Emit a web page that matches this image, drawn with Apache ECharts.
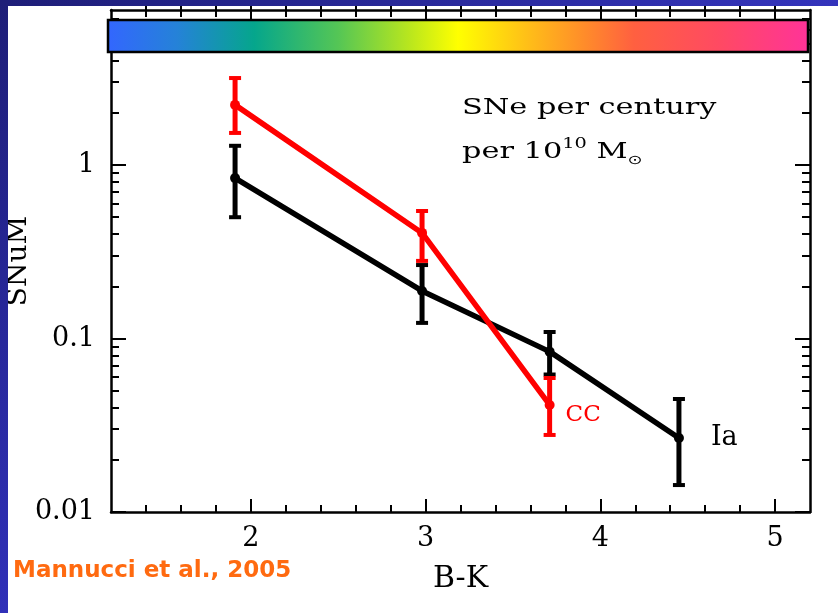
<!DOCTYPE html>
<html>
<head>
<meta charset="utf-8">
<script src="https://cdn.jsdelivr.net/npm/echarts@6/dist/echarts.min.js"></script>
<style>
  html, body { margin: 0; padding: 0; background: #fff; }
  #chart { width: 838px; height: 613px; }
</style>
</head>
<body>
<div id="chart"></div>
<script>
// Supernova rates (SNuM) versus B-K colour of the host galaxies
const bkIa = [1.91, 2.98, 3.71, 4.45];
const rateIa = [0.84, 0.188, 0.084, 0.0267];
const errLowIa = [0.50, 0.123, 0.062, 0.0143];
const errHighIa = [1.29, 0.265, 0.109, 0.0448];

const bkCC = [1.91, 2.98, 3.71];
const rateCC = [2.22, 0.406, 0.0414];
const errLowCC = [1.53, 0.28, 0.0278];
const errHighCC = [3.17, 0.543, 0.0592];

const xRange = [1.2, 5.2];
const xMajorTicks = [2, 3, 4, 5];
const xMinorTicks = [1.4, 1.6, 1.8, 2.2, 2.4, 2.6, 2.8, 3.2, 3.4, 3.6, 3.8,
                     4.2, 4.4, 4.6, 4.8];

const yRange = [0.01, 7.82];
const yDecades = [0.01, 0.1, 1];
const yLabels = ['0.01', '0.1', '1'];
const yMinorTicks = [0.02, 0.03, 0.04, 0.05, 0.06, 0.07, 0.08, 0.09,
                     0.2, 0.3, 0.4, 0.5, 0.6, 0.7, 0.8, 0.9,
                     2, 3, 4, 5, 6, 7];

const colorbarStops = [
  [0.00, '#3366ff'], [0.10, '#2582d8'], [0.21, '#05a68c'], [0.33, '#55c655'],
  [0.43, '#b8e61e'], [0.50, '#ffff00'], [0.60, '#ffbe18'], [0.68, '#ff8c2a'],
  [0.75, '#ff6040'], [0.87, '#ff4a62'], [1.00, '#ff3399']
];

const serif = '"DejaVu Serif", serif';
const log10 = Math.log10;
const yMinLog = log10(yRange[0]);
const yMaxLog = log10(yRange[1]);
const yDecadeLogs = yDecades.map(v => Math.round(log10(v)));
const yMinorLogs = yMinorTicks.map(v => log10(v));

const axisLineStyle = { color: '#000', width: 2.5 };

// x axes: one carries the data, the others only draw tick marks
function xTicks(position, values, length, inside, withLine) {
  return {
    type: 'value', position, min: xRange[0], max: xRange[1],
    axisLine: { show: withLine, onZero: false, lineStyle: axisLineStyle },
    axisTick: { show: true, inside, length, customValues: values,
                lineStyle: { color: '#000', width: 2 } },
    axisLabel: { show: false },
    splitLine: { show: false }
  };
}
// y tick axes live in log10 space, matching the log data axis
function yTicks(position, values, length, withLine) {
  return {
    type: 'value', position, min: yMinLog, max: yMaxLog,
    axisLine: { show: withLine, onZero: false, lineStyle: axisLineStyle },
    axisTick: { show: true, inside: true, length, customValues: values,
                lineStyle: { color: '#000', width: 2 } },
    axisLabel: { show: false },
    splitLine: { show: false }
  };
}

const xAxes = [
  {
    type: 'value', position: 'bottom', min: xRange[0], max: xRange[1],
    axisLine: { show: true, onZero: false, lineStyle: axisLineStyle },
    axisTick: { show: true, inside: true, length: 13, customValues: xMajorTicks,
                lineStyle: { color: '#000', width: 2 } },
    axisLabel: { show: true, customValues: xMajorTicks, margin: 13,
                 fontFamily: serif, fontSize: 27, color: '#000' },
    splitLine: { show: false },
    name: 'B-K', nameLocation: 'middle', nameGap: 52, nameMoveOverlap: false,
    nameTextStyle: { fontFamily: serif, fontSize: 30, color: '#000' }
  },
  xTicks('bottom', xMinorTicks, 7, true, false),
  xTicks('top', xMajorTicks, 13, true, true),
  xTicks('top', xMinorTicks, 7, true, false),
  xTicks('top', xMajorTicks.concat(xMinorTicks), 5, false, false)
];

const leftMajor = yTicks('left', yDecadeLogs, 15, true);
leftMajor.axisLabel = {
  show: true, customValues: yDecadeLogs, margin: 16,
  fontFamily: serif, fontSize: 27, color: '#000',
  formatter: v => yLabels[yDecadeLogs.findIndex(l => Math.abs(l - v) < 1e-6)]
};
leftMajor.name = 'SNuM';
leftMajor.nameLocation = 'middle';
leftMajor.nameRotate = 90;
leftMajor.nameGap = 78;
leftMajor.nameMoveOverlap = false;
leftMajor.nameTextStyle = { fontFamily: serif, fontSize: 28, color: '#000' };

const yAxes = [
  { type: 'log', logBase: 10, min: yRange[0], max: yRange[1], show: false },
  leftMajor,
  yTicks('left', yMinorLogs, 8, false),
  yTicks('right', yDecadeLogs, 15, true),
  yTicks('right', yMinorLogs, 8, false)
];

function errorBars(color) {
  return function (params, api) {
    const x = api.value(0);
    const top = api.coord([x, api.value(2)]);
    const bot = api.coord([x, api.value(1)]);
    const half = 6;
    const cap = { stroke: color, lineWidth: 4 };
    return {
      type: 'group',
      children: [
        { type: 'line', shape: { x1: top[0], y1: top[1], x2: bot[0], y2: bot[1] },
          style: { stroke: color, lineWidth: 5 } },
        { type: 'line', shape: { x1: top[0] - half, y1: top[1], x2: top[0] + half, y2: top[1] }, style: cap },
        { type: 'line', shape: { x1: bot[0] - half, y1: bot[1], x2: bot[0] + half, y2: bot[1] }, style: cap }
      ]
    };
  };
}

function lineData(xs, ys, labelText, labelOpts) {
  return xs.map((x, i) => {
    if (i !== xs.length - 1) return [x, ys[i]];
    return { value: [x, ys[i]], label: Object.assign({ show: true, formatter: labelText }, labelOpts) };
  });
}

const option = {
  animation: false,
  backgroundColor: '#ffffff',
  grid: { left: 111, right: 28, top: 10, bottom: 101, containLabel: false, outerBoundsMode: 'none' },
  xAxis: xAxes,
  yAxis: yAxes,
  series: [
    {
      type: 'custom', name: 'Ia errors', xAxisIndex: 0, yAxisIndex: 0, z: 2,
      renderItem: errorBars('#000000'),
      encode: { x: 0, y: [1, 2] },
      data: bkIa.map((x, i) => [x, errLowIa[i], errHighIa[i]])
    },
    {
      type: 'line', name: 'Ia', xAxisIndex: 0, yAxisIndex: 0, z: 3,
      data: lineData(bkIa, rateIa, 'Ia', {
        position: 'right', distance: 27,
        fontFamily: serif, fontSize: 27, color: '#000'
      }),
      symbol: 'circle', symbolSize: 10,
      itemStyle: { color: '#000000' },
      lineStyle: { color: '#000000', width: 5.5 }
    },
    {
      type: 'custom', name: 'CC errors', xAxisIndex: 0, yAxisIndex: 0, z: 4,
      renderItem: errorBars('#ff0000'),
      encode: { x: 0, y: [1, 2] },
      data: bkCC.map((x, i) => [x, errLowCC[i], errHighCC[i]])
    },
    {
      type: 'line', name: 'CC', xAxisIndex: 0, yAxisIndex: 0, z: 5,
      data: lineData(bkCC, rateCC, 'CC', {
        position: 'right', distance: 11, offset: [0, 10],
        fontFamily: serif, fontSize: 23, color: '#ff0000'
      }),
      symbol: 'circle', symbolSize: 10,
      itemStyle: { color: '#ff0000' },
      lineStyle: { color: '#ff0000', width: 5.5 }
    }
  ],
  graphic: [
    // colour bar across the top of the panel
    {
      type: 'rect', z: 100,
      shape: { x: 108, y: 20, width: 700, height: 32 },
      style: {
        fill: {
          type: 'linear', x: 0, y: 0, x2: 1, y2: 0,
          colorStops: colorbarStops.map(s => ({ offset: s[0], color: s[1] }))
        },
        stroke: '#000', lineWidth: 2.5
      }
    },
    // units note
    {
      type: 'text', z: 100, x: 462, y: 108, scaleX: 1.38,
      style: { text: 'SNe per century', font: '22px ' + serif, fill: '#000',
               textAlign: 'left', textVerticalAlign: 'middle' }
    },
    {
      type: 'text', z: 100, x: 462, y: 152, scaleX: 1.38,
      style: {
        text: '{n|per 10}{sup|10}{n| M}{sub|\u2299}',
        textAlign: 'left', textVerticalAlign: 'middle',
        rich: {
          n: { fontFamily: serif, fontSize: 22, lineHeight: 30, fill: '#000', verticalAlign: 'middle' },
          sup: { fontFamily: serif, fontSize: 14, lineHeight: 16, fill: '#000', verticalAlign: 'top' },
          sub: { fontFamily: '"DejaVu Sans", sans-serif', fontSize: 13, lineHeight: 14, fill: '#000', verticalAlign: 'bottom' }
        }
      }
    },
    // reference credit
    {
      type: 'text', z: 100, x: 13, y: 571,
      style: { text: 'Mannucci et al., 2005', fill: '#ff6a10',
               font: 'bold 23px "DejaVu Sans", sans-serif',
               textAlign: 'left', textVerticalAlign: 'middle' }
    },
    // slide frame
    {
      type: 'rect', z: 110,
      shape: { x: 0, y: 0, width: 838, height: 6 },
      style: { fill: { type: 'linear', x: 0, y: 0, x2: 1, y2: 0,
                       colorStops: [{ offset: 0, color: '#1e1e78' }, { offset: 1, color: '#3434bc' }] } }
    },
    {
      type: 'rect', z: 110,
      shape: { x: 0, y: 0, width: 8, height: 613 },
      style: { fill: { type: 'linear', x: 0, y: 0, x2: 0, y2: 1,
                       colorStops: [{ offset: 0, color: '#1e1e78' }, { offset: 1, color: '#3030b8' }] } }
    }
  ]
};

const chart = echarts.init(document.getElementById('chart'), null, { renderer: 'canvas' });
chart.setOption(option);
</script>
</body>
</html>
